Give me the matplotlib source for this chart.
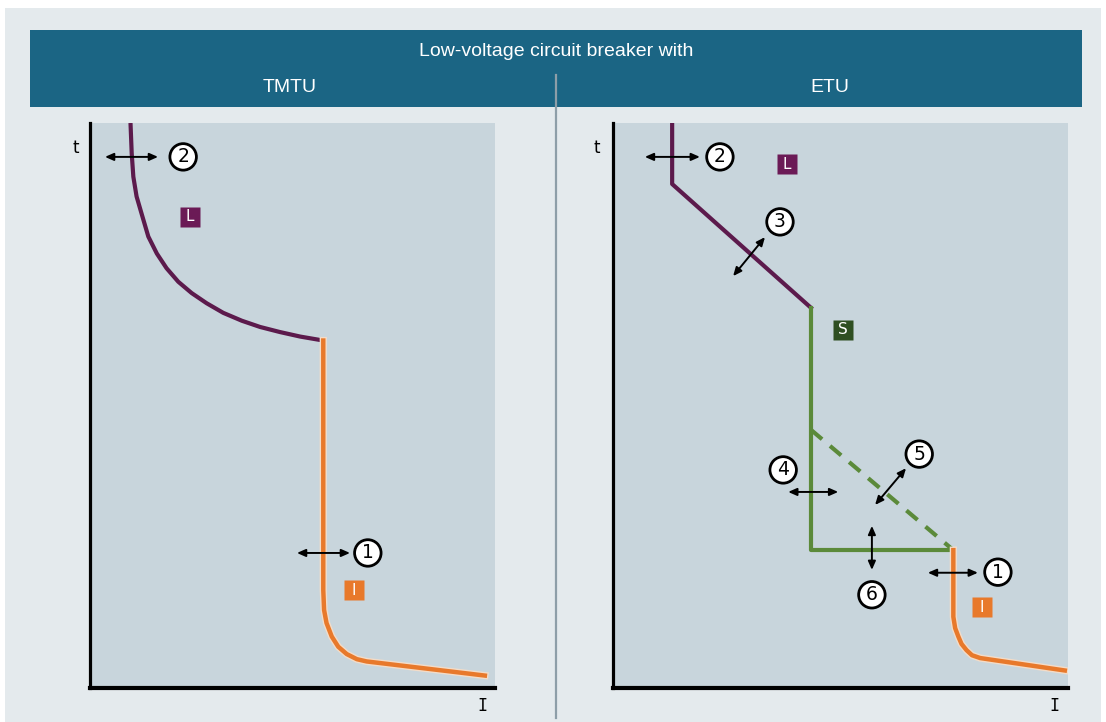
import matplotlib.pyplot as plt
import matplotlib.patheffects as pe
from matplotlib.patches import Rectangle

# current I (% of axis width) and time t (% of axis height) for each curve
tmtu_L_I = [10.0, 10.3, 10.7, 11.5, 12.8, 14.4, 16.5, 18.9, 21.8, 25.1, 28.8,
            32.9, 37.5, 42.0, 46.9, 51.9, 57.6]
tmtu_L_t = [100.0, 94.6, 90.5, 87.0, 83.8, 79.9, 76.9, 74.3, 71.9, 69.9, 68.1,
            66.4, 65.0, 63.9, 63.0, 62.2, 61.5]
tmtu_I_I = [57.6, 57.6, 57.8, 58.4, 59.7, 61.3, 63.4, 65.9, 68.3, 97.5]
tmtu_I_t = [61.5, 17.3, 13.8, 11.5, 9.1, 7.3, 6.0, 5.1, 4.7, 2.2]

etu_L_I = [13.0, 13.0, 43.5]
etu_L_t = [100.0, 89.2, 67.3]
etu_S_I = [43.5, 43.5, 74.8]
etu_S_t = [67.3, 24.4, 24.4]
etu_S2_I = [43.5, 74.8]
etu_S2_t = [45.7, 24.4]
etu_I_I = [74.8, 74.8, 75.2, 75.9, 76.6, 77.7, 78.9, 80.7, 99.3]
etu_I_t = [24.4, 12.6, 10.6, 9.1, 7.8, 6.7, 5.8, 5.3, 3.1]

title = "Low-voltage circuit breaker with"
panel_titles = ["TMTU", "ETU"]

PURPLE = "#5c1a4c"
ORANGE = "#e8792b"
GREEN = "#5b8a3a"
DKGREEN = "#2f4f22"
LBOX = "#6b1a56"
PANEL = "#c8d5dc"
OUTER = "#e4eaed"
HEADER = "#1b6584"

W, H = 1106, 722
fig = plt.figure(figsize=(W / 100, H / 100), dpi=100)
fig.patch.set_facecolor("white")

# background / header in pixel coordinates
bg = fig.add_axes([0, 0, 1, 1], zorder=0)
bg.set_xlim(0, W)
bg.set_ylim(H, 0)
bg.axis("off")
bg.add_patch(Rectangle((5, 8), 1096, 714, color=OUTER, lw=0))
bg.add_patch(Rectangle((30, 30), 1052, 77, color=HEADER, lw=0))
bg.plot([556, 556], [75, 718], color="#8d9ea8", lw=1.6)
hfont = dict(family=["Liberation Sans", "DejaVu Sans"], color="white")
bg.text(556, 51, title, ha="center", va="center", fontsize=14, **hfont)
bg.text(290, 88, panel_titles[0], ha="center", va="center", fontsize=14, **hfont)
bg.text(830, 88, panel_titles[1], ha="center", va="center", fontsize=14, **hfont)


def make_axes(x0, x1):
    ax = fig.add_axes([x0 / W, (H - 688) / H, (x1 - x0) / W, 565 / H], zorder=1)
    ax.set_facecolor(PANEL)
    ax.set_xlim(0, 100)
    ax.set_ylim(0, 100)
    ax.set_xticks([])
    ax.set_yticks([])
    for s in ["top", "right"]:
        ax.spines[s].set_visible(False)
    ax.spines["left"].set_linewidth(2.3)
    ax.spines["bottom"].set_linewidth(3)
    ax.text(-3.5, 95.5, "t", ha="center", va="center", fontsize=12,
            clip_on=False)
    ax.text(97, -3.2, "I", ha="center", va="center", fontsize=12,
            family="DejaVu Sans Mono", clip_on=False)
    return ax


def harrow(ax, x0, y0, x1, y1):
    ax.annotate("", xy=(x1, y1), xytext=(x0, y0),
                arrowprops=dict(arrowstyle="<|-|>,head_length=0.5,head_width=0.22",
                                color="black", lw=1.4, shrinkA=0, shrinkB=0))


def num(ax, x, y, s):
    ax.text(x, y, s, ha="center", va="center", fontsize=13.5,
            bbox=dict(boxstyle="circle,pad=0.2", fc="white", ec="black", lw=2))


def tag(ax, x, y, s, c):
    ax.plot([x], [y], marker="s", ms=14.5, color=c, mec="none", zorder=4)
    ax.text(x, y, s, ha="center", va="center", fontsize=11, color="white",
            zorder=5)


halo = [pe.Stroke(linewidth=5.2, foreground="#f3dcc8"), pe.Normal()]

# left panel: TMTU
axL = make_axes(90, 495)
axL.plot(tmtu_L_I, tmtu_L_t, color=PURPLE, lw=3, solid_capstyle="butt",
         solid_joinstyle="round")
axL.plot(tmtu_I_I, tmtu_I_t, color=ORANGE, lw=3.2, path_effects=halo,
         solid_joinstyle="round")
harrow(axL, 3.7, 94.0, 16.8, 94.0)
num(axL, 23.0, 94.0, "2")
tag(axL, 24.7, 83.4, "L", LBOX)
harrow(axL, 51.1, 23.9, 64.2, 23.9)
num(axL, 68.6, 23.9, "1")
tag(axL, 65.2, 17.3, "I", ORANGE)

# right panel: ETU
axR = make_axes(613, 1068)
axR.plot(etu_L_I, etu_L_t, color=PURPLE, lw=3)
axR.plot(etu_S_I, etu_S_t, color=GREEN, lw=3)
axR.plot(etu_S2_I, etu_S2_t, color=GREEN, lw=3, ls=(0, (3.5, 2.5)))
axR.plot(etu_I_I, etu_I_t, color=ORANGE, lw=3.2, path_effects=halo,
         solid_joinstyle="round")
harrow(axR, 7.0, 94.0, 19.1, 94.0)
num(axR, 23.5, 94.0, "2")
tag(axR, 38.2, 92.7, "L", LBOX)
harrow(axR, 26.4, 72.9, 33.4, 79.8)
num(axR, 36.7, 82.5, "3")
tag(axR, 50.5, 63.4, "S", DKGREEN)
harrow(axR, 38.5, 34.7, 49.5, 34.7)
num(axR, 37.4, 38.6, "4")
harrow(axR, 57.6, 32.4, 64.4, 38.9)
num(axR, 67.3, 41.4, "5")
harrow(axR, 56.9, 28.7, 56.9, 20.9)
num(axR, 56.9, 16.5, "6")
harrow(axR, 69.2, 20.4, 80.2, 20.4)
num(axR, 84.6, 20.5, "1")
tag(axR, 81.1, 14.3, "I", ORANGE)

fig.savefig("out.png", dpi=100)
